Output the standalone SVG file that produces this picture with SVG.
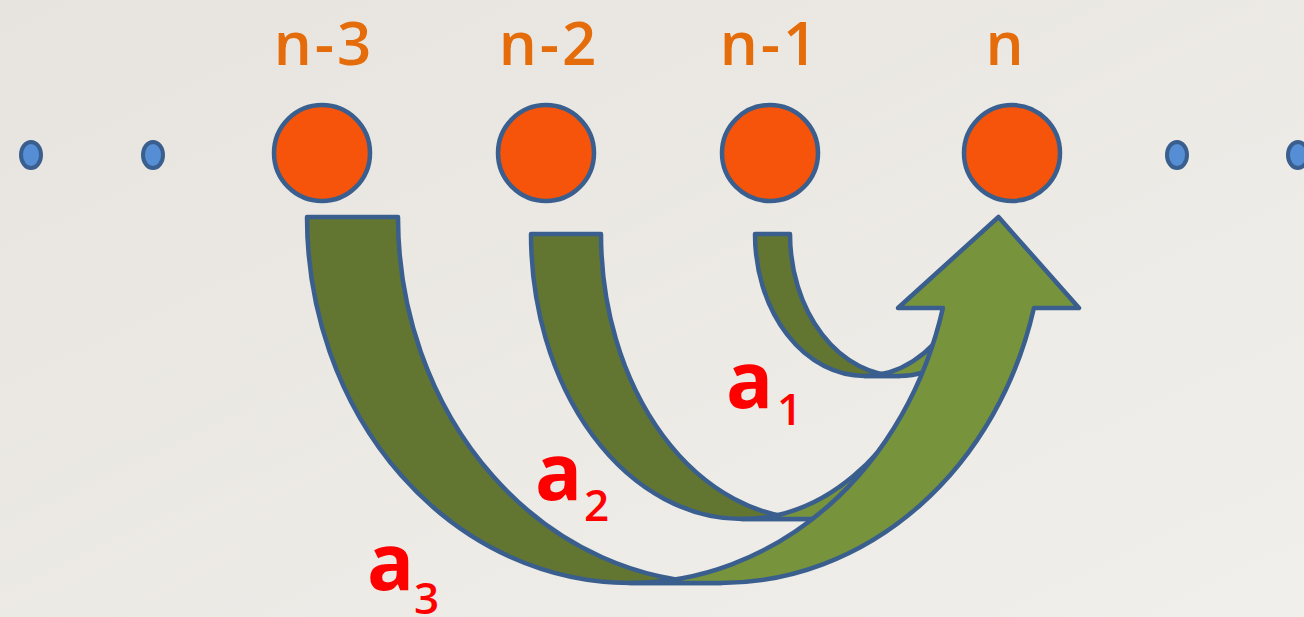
<svg xmlns="http://www.w3.org/2000/svg" width="1304" height="617" viewBox="0 0 1304 617">
<defs>
<linearGradient id="bg" x1="0" y1="0" x2="1" y2="1">
<stop offset="0" stop-color="#E7E4DF"/>
<stop offset="1" stop-color="#F1EFEB"/>
</linearGradient>
<style>
.lbl{font-family:"Open Sans","Liberation Sans",sans-serif;font-weight:600;fill:#E46C0A;font-size:60px;text-anchor:middle;letter-spacing:3px}
.a{font-family:"Open Sans","Liberation Sans",sans-serif;font-weight:700;fill:#FF0000;font-size:78px}
.sub{font-family:"Open Sans","Liberation Sans",sans-serif;font-weight:600;fill:#FF0000;font-size:44px}
.big{fill:#F5540A;stroke:#3A5F8E;stroke-width:4.5}
.dot{fill:#558ED5;stroke:#3A5F8E;stroke-width:4}
.tail{fill:#627631;stroke:#3A5F8E;stroke-width:4.5;stroke-linejoin:round}
.shaft{fill:#77933C;stroke:#3A5F8E;stroke-width:4.5;stroke-linejoin:round}
</style>
</defs>
<rect width="1304" height="617" fill="url(#bg)"/>

<g id="connectors">
<g id="arrow-a1">
<path class="tail" d="M755,234 A109.5 142 0 0 0 864.5,376 L899.5,376 A109.5 142 0 0 1 790,234 Z"/>
<path class="shaft" d="M951.6,320 L986.6,320 A109.5 142 0 0 1 899.5,376 L864.5,376 A109.5 142 0 0 0 951.6,320 Z"/>
</g>
<g id="arrow-a2">
<path class="tail" d="M531,234 A211 285 0 0 0 742,519 L812,519 A211 285 0 0 1 601,234 Z"/>
<path class="shaft" d="M931.3,360 L1001.3,360 A211 285 0 0 1 812,519 L742,519 A211 285 0 0 0 931.3,360 Z"/>
</g>
<g id="arrow-a3">
<path class="tail" d="M307,217 A323 366 0 0 0 630,583 L721,583 A323 366 0 0 1 398,217 Z"/>
<path class="shaft" d="M998.5,217 L1079,308 L1033.9,308 A323 366 0 0 1 721,583 L630,583 A323 366 0 0 0 942.9,308 L898,308 Z"/>
</g>
</g>

<g id="dot-1"><ellipse class="dot" cx="31" cy="155" rx="10" ry="13"/></g>
<g id="dot-2"><ellipse class="dot" cx="153" cy="155" rx="10" ry="13"/></g>
<g id="node-n-3"><circle class="big" cx="322" cy="153" r="48"/><text class="lbl" x="324" y="65">n-3</text></g>
<g id="node-n-2"><circle class="big" cx="546" cy="153" r="48"/><text class="lbl" x="549" y="65">n-2</text></g>
<g id="node-n-1"><circle class="big" cx="770" cy="153" r="48"/><text class="lbl" x="770" y="65">n-1</text></g>
<g id="node-n"><circle class="big" cx="1012" cy="153" r="48"/><text class="lbl" x="1006" y="65">n</text></g>
<g id="dot-3"><ellipse class="dot" cx="1177" cy="155" rx="10" ry="13"/></g>
<g id="dot-4"><ellipse class="dot" cx="1298" cy="155" rx="10" ry="13"/></g>

<g id="label-a1"><text class="a" x="726" y="408">a</text><text class="sub" x="777" y="425">1</text></g>
<g id="label-a2"><text class="a" x="535" y="500">a</text><text class="sub" x="584" y="521">2</text></g>
<g id="label-a3"><text class="a" x="367" y="590">a</text><text class="sub" x="414" y="614">3</text></g>
</svg>
